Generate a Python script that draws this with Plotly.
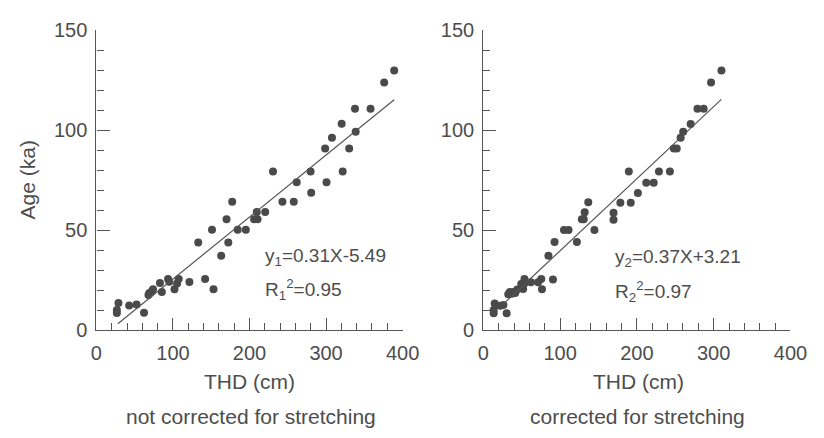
import plotly.graph_objects as go

# ---- data ----
thd_raw = [26.7, 26.7, 28.8, 42.8, 52.5, 62.2, 68, 69, 71.5, 74, 83, 85.5, 93.6, 95.2,
           102, 105.4, 107.5, 121.5, 133, 142, 151, 153, 163, 170, 172.3, 177.4, 184.6,
           195.2, 206, 209.5, 210.5, 220.5, 243, 257.8, 230.7, 261.6, 280.6, 279.8,
           300.6, 321.7, 298.8, 307.7, 320.4, 330.2, 338.7, 337.8, 358.1, 375.9, 389]
age_raw = [8.5, 10.0, 13.6, 12.3, 12.8, 8.7, 17.5, 18.4, 19.0, 20.4, 23.6, 19.1, 25.5, 24.2,
           20.4, 23.3, 25.5, 24.1, 43.8, 25.5, 50.2, 20.4, 37.2, 55.4, 43.8, 64.1, 50.2,
           50.2, 55.4, 59.0, 55.4, 59.0, 64.1, 64.1, 79.3, 73.9, 68.7, 79.3,
           73.9, 79.3, 90.8, 96.2, 103.1, 90.8, 99.2, 110.7, 110.7, 123.7, 129.7]

thd_cor = [13.5, 13.5, 14.8, 21.9, 26.2, 30.4, 32.5, 34.6, 37, 39.5, 41.5, 44.3, 49.4, 51.9,
           53.6, 53.6, 62, 71.3, 75.5, 76.4, 90.7, 84.8, 92.8, 105.1, 111, 121.9, 144.7,
           128.3, 130.8, 132, 136.7, 169.6, 169.6, 178.5, 192, 201.3, 189.5, 212.2,
           221.9, 228.7, 243, 248.1, 251.9, 257, 260.3, 270, 278.9, 287, 296.6, 310.1]
age_cor = [8.4, 10.0, 13.3, 12.2, 12.5, 8.4, 17.9, 19.1, 18.2, 19.0, 18.5, 20.3, 23.1, 20.6,
           25.5, 23.4, 23.9, 23.9, 25.5, 20.4, 25.3, 37.2, 44.0, 50.0, 50.0, 44.0, 50.0,
           55.4, 55.4, 58.9, 63.9, 58.7, 55.2, 63.7, 63.7, 68.5, 79.3, 73.7,
           73.7, 79.3, 79.3, 90.8, 90.8, 96.2, 99.2, 103.0, 110.6, 110.6, 123.7, 129.7]

fit1_x = [28, 389]
fit1_y = [3.2, 115.1]
fit2_x = [26, 310]
fit2_y = [13.0, 115.3]

eq1 = ["y<sub>1</sub>=0.31X-5.49", "R<sub>1</sub><sup>2</sup>=0.95"]
eq2 = ["y<sub>2</sub>=0.37X+3.21", "R<sub>2</sub><sup>2</sup>=0.97"]
panel_titles = ["not corrected for stretching", "corrected for stretching"]
x_title = "THD (cm)"
y_title = "Age (ka)"

# ---- style ----
W, H = 824, 438
TXT = "#4d4d4d"
DOT = "#4a4a4a"
FONT = "Liberation Sans, Arial, sans-serif"
FS_TICK = 20
FS_TITLE = 21
FS_EQ = 19

def px(x):
    return x / W

def py(y):
    return 1 - y / H

fig = go.Figure()
fig.add_trace(go.Scatter(x=thd_raw, y=age_raw, mode="markers",
                         marker=dict(size=8, color=DOT), xaxis="x", yaxis="y",
                         cliponaxis=False, showlegend=False))
fig.add_trace(go.Scatter(x=fit1_x, y=fit1_y, mode="lines",
                         line=dict(color="#555555", width=1.2), xaxis="x", yaxis="y",
                         showlegend=False))
fig.add_trace(go.Scatter(x=thd_cor, y=age_cor, mode="markers",
                         marker=dict(size=8, color=DOT), xaxis="x2", yaxis="y2",
                         cliponaxis=False, showlegend=False))
fig.add_trace(go.Scatter(x=fit2_x, y=fit2_y, mode="lines",
                         line=dict(color="#555555", width=1.2), xaxis="x2", yaxis="y2",
                         showlegend=False))

def xax(domain, anchor):
    return dict(domain=domain, anchor=anchor, range=[0, 400], dtick=100, tick0=0,
                showline=True, linecolor="#555555", linewidth=1.2,
                ticks="inside", ticklen=12, tickwidth=1.2, tickcolor="#555555",
                minor=dict(dtick=20, ticks="inside", ticklen=7, tickwidth=1.1,
                           tickcolor="#555555", showgrid=False),
                showgrid=False, zeroline=False,
                tickfont=dict(family=FONT, size=FS_TICK, color=TXT),
                ticklabelstandoff=5, fixedrange=True)

def yax(domain, anchor):
    return dict(domain=domain, anchor=anchor, range=[0, 150], dtick=50, tick0=0,
                showline=True, linecolor="#555555", linewidth=1.2,
                ticks="inside", ticklen=13, tickwidth=1.2, tickcolor="#555555",
                minor=dict(dtick=10, ticks="inside", ticklen=7, tickwidth=1.1,
                           tickcolor="#555555", showgrid=False),
                showgrid=False, zeroline=False,
                tickfont=dict(family=FONT, size=FS_TICK, color=TXT),
                ticklabelstandoff=4, fixedrange=True)

ydom = [py(336), py(20)]
fig.update_layout(
    width=W, height=H,
    margin=dict(l=0, r=0, t=0, b=0),
    paper_bgcolor="white", plot_bgcolor="white",
    xaxis=xax([px(93), px(408)], "y"),
    yaxis=yax(ydom, "x"),
    xaxis2=xax([px(491), px(807)], "y2"),
    yaxis2=yax(ydom, "x2"),
    showlegend=False,
)

annots = []
def ann(text, x, y, size, xanchor="center", angle=0):
    annots.append(dict(text=text, x=px(x), y=py(y), xref="paper", yref="paper",
                       xanchor=xanchor, yanchor="middle", showarrow=False,
                       textangle=angle,
                       font=dict(family=FONT, size=size, color=TXT)))

ann(x_title, 251, 390, FS_TITLE)
ann(x_title, 651, 390, FS_TITLE)
ann(panel_titles[0], 252, 427, FS_TITLE)
ann(panel_titles[1], 650, 427, FS_TITLE)
ann(y_title, 22, 178, FS_TITLE, angle=-90)
ann(eq1[0], 264, 259, FS_EQ, xanchor="left")
ann(eq1[1], 264, 293, FS_EQ, xanchor="left")
ann(eq2[0], 624, 260, FS_EQ, xanchor="left")
ann(eq2[1], 624, 295, FS_EQ, xanchor="left")
fig.update_layout(annotations=annots)

fig.write_html("out.html")
